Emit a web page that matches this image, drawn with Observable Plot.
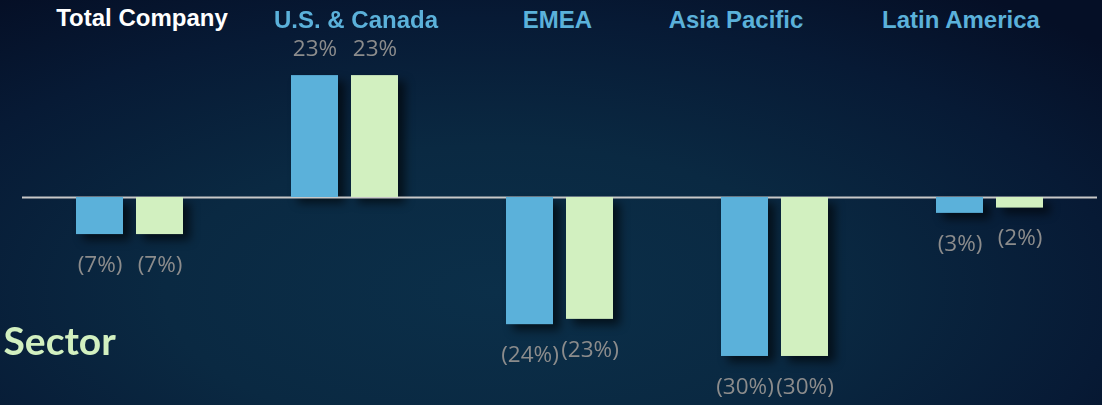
<!DOCTYPE html>
<html>
<head>
<meta charset="utf-8">
<script src="https://cdn.jsdelivr.net/npm/d3@7"></script>
<script src="https://cdn.jsdelivr.net/npm/@observablehq/plot@0.6"></script>
<style>
  html, body { margin: 0; padding: 0; background: #071630; overflow: hidden; }
  #chart svg { display: block; }
</style>
</head>
<body>
<div id="chart"></div>
<script>
// ---- data ----
const categories = ["Total Company", "U.S. & Canada", "EMEA", "Asia Pacific", "Latin America"];
const seriesNames = ["Series A", "Series B"];
const seriesA = [-7, 23, -24, -30, -3];
const seriesB = [-7, 23, -23, -30, -2];
const sectorLabel = "Sector";

// ---- layout / style (not data) ----
const headerColors = ["#ffffff", "#5bb1da", "#5bb1da", "#5bb1da", "#5bb1da"];
const headerShift = [12, 11, -2.5, -39, -29];
const barColors = ["#5bb1da", "#d2f0c0"];

const rows = [];
categories.forEach((c, i) => {
  rows.push({category: c, series: seriesNames[0], value: seriesA[i]});
  rows.push({category: c, series: seriesNames[1], value: seriesB[i]});
});
const fmt = v => v < 0 ? `(${Math.abs(v)}%)` : `${v}%`;
const labelFont = {fontFamily: "'Open Sans', sans-serif", fontSize: 22.5, fill: "#8c8c8c"};

const headerMarks = categories.map((c, i) => Plot.text([c], {
  fx: d => d, text: d => d, frameAnchor: "top", lineAnchor: "middle", dy: i === 0 ? 18 : 20, dx: headerShift[i],
  fill: headerColors[i], fontFamily: "'Liberation Sans', Arial, sans-serif",
  fontWeight: "bold", fontSize: 24
}));

const chart = Plot.plot({
  width: 1102,
  height: 405,
  marginLeft: 20,
  marginRight: 4,
  marginTop: 0,
  marginBottom: 0,
  style: {background: "radial-gradient(ellipse 75% 90% at 45% 72%, #0b2f49 0%, #0a2942 40%, #071a35 75%, #050f26 100%)", overflow: "visible"},
  fx: {domain: categories, padding: 0, axis: null},
  x: {domain: seriesNames, paddingInner: 0.213, paddingOuter: 0.873, axis: null},
  y: {domain: [-39.25, 37.17], axis: null},
  color: {domain: seriesNames, range: barColors},
  marks: [
    Plot.barY(rows, {fx: "category", x: "series", y: "value", fill: "#000", fillOpacity: 0.6, dx: 7, dy: 6, ariaDescription: "shadow"}),
    Plot.ruleY([0], {stroke: "#c8c8c8", strokeWidth: 2}),
    Plot.barY(rows, {fx: "category", x: "series", y: "value", fill: "series"}),
    Plot.text(rows.filter(d => d.value >= 0), {fx: "category", x: "series", y: "value", text: d => fmt(d.value), dy: -27, ...labelFont}),
    Plot.text(rows.filter(d => d.value < 0), {fx: "category", x: "series", y: "value", text: d => fmt(d.value), dy: 30, ...labelFont}),
    ...headerMarks,
    Plot.text([sectorLabel], {fx: () => categories[0], text: d => d, frameAnchor: "bottom-left", textAnchor: "start", lineAnchor: "middle",
      dx: -19, dy: -63, fill: "#d2f0c0", fontFamily: "Lato, sans-serif", fontWeight: "bold", fontSize: 39})
  ]
});

// soft blur for the bar shadows
const ns = "http://www.w3.org/2000/svg";
const defs = document.createElementNS(ns, "defs");
const filter = document.createElementNS(ns, "filter");
filter.setAttribute("id", "shadowBlur");
filter.setAttribute("x", "-20%"); filter.setAttribute("y", "-20%");
filter.setAttribute("width", "140%"); filter.setAttribute("height", "140%");
const blur = document.createElementNS(ns, "feGaussianBlur");
blur.setAttribute("stdDeviation", "5");
filter.appendChild(blur);
defs.appendChild(filter);
chart.insertBefore(defs, chart.firstChild);
chart.querySelectorAll('[aria-description="shadow"]').forEach(g => g.setAttribute("filter", "url(#shadowBlur)"));

document.getElementById("chart").appendChild(chart);
</script>
</body>
</html>
